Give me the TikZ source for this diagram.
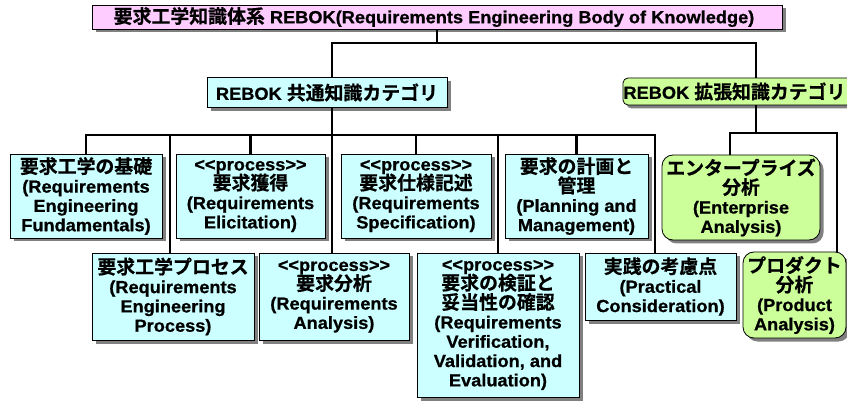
\documentclass[tikz,border=0pt]{standalone}
\usepackage{fontspec}
\setmainfont{Liberation Sans}[FakeStretch=1.04, BoldFeatures={FakeBold=0.8}]
\newfontfamily\jp{Noto Sans CJK JP}[UprightFont=* Bold, BoldFont=* Bold, Scale=1.08, BoldFeatures={FakeBold=0.6}]
\usetikzlibrary{shadows}
\definecolor{pinkbg}{RGB}{255,204,255}
\definecolor{cyanbg}{RGB}{204,255,255}
\definecolor{greenbg}{RGB}{204,255,153}
\definecolor{shadowgray}{RGB}{128,128,128}
\newcommand\procstr{<\kern0pt<process>\kern0pt>}
\newcommand\boxfontsel{\bfseries\fontsize{17.5}{19.3}\selectfont\lineskiplimit=-30pt\relax}
\tikzset{
  boxbase/.style={draw=black, line width=0.8pt, align=center, inner sep=0pt,
    font=\boxfontsel,
    drop shadow={shadow xshift=3.5pt, shadow yshift=-3.5pt, fill=shadowgray, opacity=1}},
  cbox/.style={boxbase, fill=cyanbg},
  gbox/.style={boxbase, fill=greenbg, rounded corners=11pt},
  gcat/.style={boxbase, fill=greenbg, rounded corners=5pt},
  pbox/.style={boxbase, fill=pinkbg},
  conn/.style={line width=2.6pt, black}
}
\begin{document}
\begin{tikzpicture}[x=1pt,y=-1pt]
\useasboundingbox[fill=white] (0,0) rectangle (847,401);
% title
\node[pbox, minimum width=690pt, minimum height=24pt] (top) at (437,17)
  {\hspace*{-6pt}{\jp 要求工学知識体系} REBOK(Requirements Engineering Body of Knowledge)};
% categories
\node[cbox, minimum width=240pt, minimum height=30pt] (cat1) at (327,92.5)
  {REBOK {\jp 共通知識カテゴリ}};
\node[gcat, minimum width=229pt, minimum height=27pt] (cat2) at (737.5,91.5)
  {\hspace*{-6pt}REBOK {\jp 拡張知識カテゴリ}};
% upper row
\node[cbox, minimum width=152pt, minimum height=84pt] (b1) at (86,196)
  {{\jp 要求工学の基礎}\\(Requirements\\Engineering\\Fundamentals)};
\node[cbox, minimum width=149pt, minimum height=84pt] (b2) at (250.5,196)
  {\procstr\\{\jp 要求獲得}\\(Requirements\\Elicitation)};
\node[cbox, minimum width=150pt, minimum height=84pt] (b3) at (416,196)
  {\procstr\\{\jp 要求仕様記述}\\(Requirements\\Specification)};
\node[cbox, minimum width=143pt, minimum height=84pt] (b4) at (576.5,196)
  {{\jp 要求の計画と}\\{\jp 管理}\\(Planning and\\Management)};
\node[gbox, minimum width=158pt, minimum height=85pt] (ent) at (741,197.5)
  {{\jp エンタープライズ}\\{\jp 分析}\\(Enterprise\\Analysis)};
% lower row
\node[cbox, minimum width=162pt, minimum height=87pt] (b6) at (173,296.5)
  {{\jp 要求工学プロセス}\\(Requirements\\Engineering\\Process)};
\node[cbox, minimum width=150pt, minimum height=87pt] (b7) at (334,296.5)
  {\procstr\\{\jp 要求分析}\\(Requirements\\Analysis)};
\node[cbox, minimum width=162pt, minimum height=144pt] (b8) at (498,325)
  {\procstr\\{\jp 要求の検証と}\\{\jp 妥当性の確認}\\(Requirements\\Verification,\\Validation, and\\Evaluation)};
\node[cbox, minimum width=151pt, minimum height=67pt] (b9) at (660.5,286.5)
  {{\jp 実践の考慮点}\\(Practical\\Consideration)};
\node[gbox, minimum width=103pt, minimum height=86pt] (prod) at (794.5,295)
  {{\jp プロダクト}\\{\jp 分析}\\(Product\\Analysis)};
% junction coordinates
\coordinate (j0) at (437,43);
\coordinate (h1) at (332,135);
\coordinate (h2) at (756,133);
\coordinate (x170) at (170,0);
\coordinate (x655) at (655,0);
\coordinate (x730) at (730,0);
\coordinate (x837) at (837,0);
% connectors
\draw[conn] (top.south) -- (j0);
\draw[conn] (j0) -| (h1 |- cat1.north);
\draw[conn] (j0) -| (h2 |- cat2.north);
\draw[conn] (h1 |- cat1.south) -- (h1);
\draw[conn] (h1) -| (b1.north);
\draw[conn] (h1) -| (x170 |- b6.north);
\draw[conn] (h1) -| (b2.north);
\draw[conn] (h1) -- (b7.north -| h1);
\draw[conn] (h1) -| (b3.north);
\draw[conn] (h1) -| (b8.north);
\draw[conn] (h1) -| (b4.north);
\draw[conn] (h1) -| (x655 |- b9.north);
\draw[conn] (h2 |- cat2.south) -- (h2);
\draw[conn] (h2) -| (x730 |- ent.north);
\draw[conn] (h2) -| (x837 |- prod.north);
\end{tikzpicture}
\end{document}
